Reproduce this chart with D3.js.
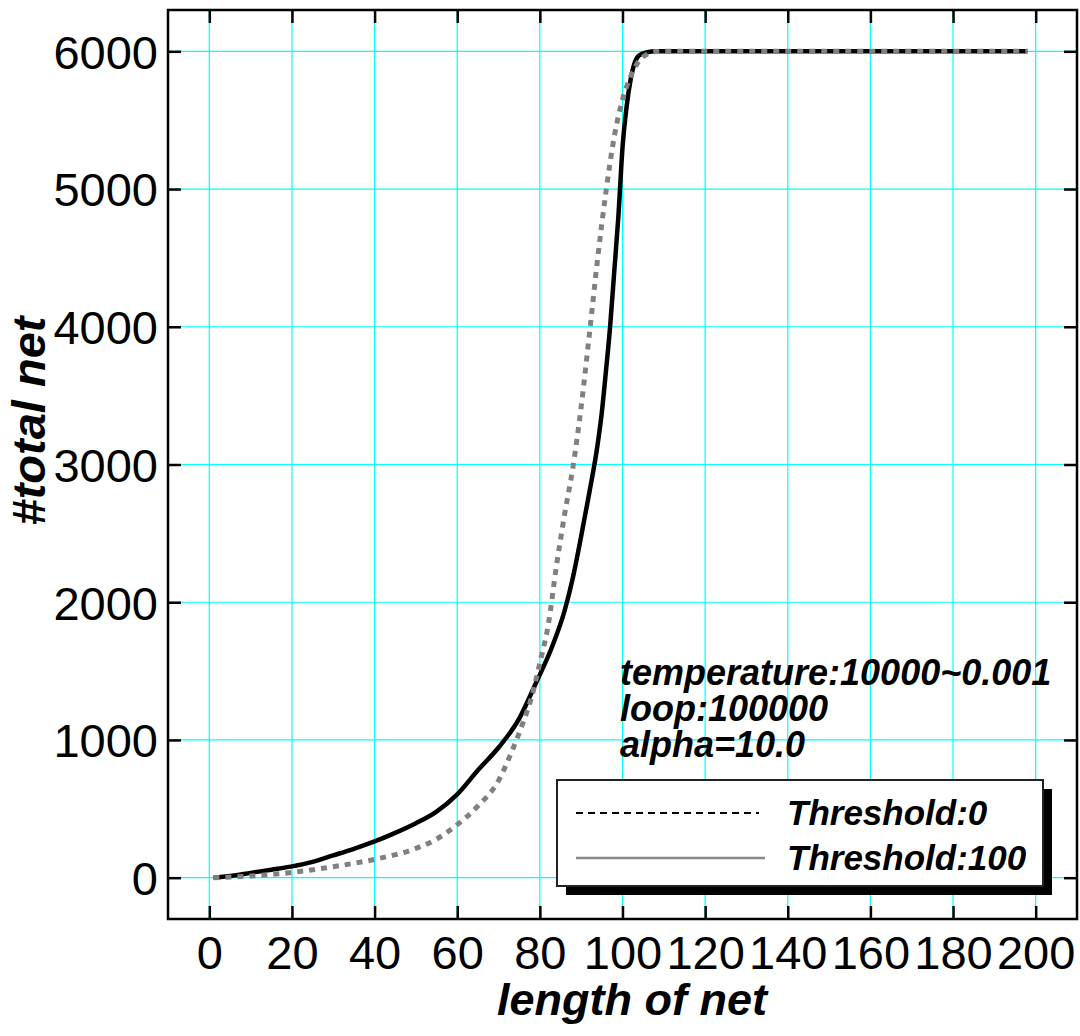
<!DOCTYPE html>
<html>
<head>
<meta charset="utf-8">
<script src="https://cdn.jsdelivr.net/npm/d3@7"></script>
<style>
  body { margin: 0; background: #fff; }
  svg { display: block; font-family: "Liberation Sans", Arial, sans-serif; }
</style>
</head>
<body>
<div id="chart-area"></div>
<script>
// ---- DATA ----
let xTicks = [0, 20, 40, 60, 80, 100, 120, 140, 160, 180, 200];
let yTicks = [0, 1000, 2000, 3000, 4000, 5000, 6000];

let seriesNames = ["Threshold:0", "Threshold:100"];

// solid black curve
let lengthA = [1, 5, 10, 15, 20, 25, 30, 35, 40, 45, 50, 55, 60, 65, 70, 75, 79, 83, 86, 88, 90, 92, 94, 95, 96, 97, 98, 99, 100, 101, 102, 103, 104, 106, 108, 110, 198];
let totalA  = [0, 12, 35, 58, 82, 115, 162, 210, 263, 325, 395, 480, 605, 780, 945, 1155, 1410, 1680, 1940, 2180, 2480, 2800, 3150, 3380, 3680, 4000, 4400, 4800, 5300, 5600, 5800, 5920, 5970, 5993, 6000, 6000, 6000];

// dotted gray curve
let lengthB = [1, 10, 20, 30, 40, 50, 55, 60, 65, 70, 73.5, 76, 78, 80, 82, 84, 86, 88, 90, 92, 94, 96, 98, 100, 102, 104, 106, 108, 110, 198];
let totalB  = [0, 12, 38, 80, 133, 213, 280, 385, 520, 705, 938, 1132, 1310, 1560, 1830, 2260, 2640, 2980, 3420, 3950, 4500, 4980, 5380, 5650, 5820, 5930, 5980, 5998, 6000, 6000];

let notes = ["temperature:10000~0.001", "loop:100000", "alpha=10.0"];

// ---- CHART AREA ----
let margin = {top: 10, right: 3, bottom: 117, left: 168},
	width = 1080 - margin.left - margin.right,
	height = 1036 - margin.top - margin.bottom;

let svg = d3.select("#chart-area").append("svg")
	.attr("width", 1080)
	.attr("height", 1036);

let g = svg.append("g")
	.attr("transform", "translate(" + margin.left + "," + margin.top + ")");

let xScale = d3.scaleLinear().domain([-10, 210]).range([0, width]);
let yScale = d3.scaleLinear().domain([-300, 6300]).range([height, 0]);

// grid
g.append("g").selectAll("line").data(xTicks).enter().append("line")
	.attr("x1", d => xScale(d)).attr("x2", d => xScale(d))
	.attr("y1", 0).attr("y2", height)
	.attr("stroke", "#00ffff").attr("stroke-width", 1.2);

g.append("g").selectAll("line").data(yTicks).enter().append("line")
	.attr("y1", d => yScale(d)).attr("y2", d => yScale(d))
	.attr("x1", 0).attr("x2", width)
	.attr("stroke", "#00ffff").attr("stroke-width", 1.2);

// axes (ticks inward, all four sides)
function styleAxis(sel) {
	sel.select(".domain").remove();
	sel.selectAll(".tick line").attr("stroke", "#000").attr("stroke-width", 2.5);
	sel.selectAll(".tick text").attr("fill", "#000")
		.style("font-size", "47px")
		.style("font-family", "'Liberation Sans', Arial, sans-serif");
}

let xAxis = d3.axisBottom(xScale).tickValues(xTicks).tickSizeInner(-13).tickSizeOuter(0).tickPadding(0);
g.append("g").attr("transform", "translate(0," + height + ")").call(xAxis).call(styleAxis)
	.selectAll(".tick text").attr("y", 50).attr("dy", 0);

g.append("g").call(d3.axisTop(xScale).tickValues(xTicks).tickSizeInner(-13).tickSizeOuter(0).tickFormat(""))
	.call(styleAxis);

let yAxis = d3.axisLeft(yScale).tickValues(yTicks).tickFormat(d3.format("d"))
	.tickSizeInner(-13).tickSizeOuter(0).tickPadding(10);
g.append("g").call(yAxis).call(styleAxis)
	.selectAll(".tick text").attr("x", -10).attr("dy", "0.36em");

g.append("g").attr("transform", "translate(" + width + ",0)")
	.call(d3.axisRight(yScale).tickValues(yTicks).tickSizeInner(-13).tickSizeOuter(0).tickFormat(""))
	.call(styleAxis);

// ---- CURVES ----
let line = d3.line()
	.x(d => xScale(d[0]))
	.y(d => yScale(d[1]))
	.curve(d3.curveMonotoneX);

g.append("path")
	.datum(lengthA.map((d, i) => [d, totalA[i]]))
	.attr("fill", "none")
	.attr("stroke", "#000")
	.attr("stroke-width", 4.5)
	.attr("d", line);

g.append("path")
	.datum(lengthB.map((d, i) => [d, totalB[i]]))
	.attr("fill", "none")
	.attr("stroke", "#808080")
	.attr("stroke-width", 5)
	.attr("stroke-dasharray", "6,6")
	.attr("d", line);

// frame
g.append("rect")
	.attr("width", width).attr("height", height)
	.attr("fill", "none").attr("stroke", "#000").attr("stroke-width", 2.5);

// ---- NOTES ----
g.append("g").selectAll("text").data(notes).enter().append("text")
	.attr("x", 620 - margin.left)
	.attr("y", (d, i) => 685 - margin.top + i * 36)
	.style("font-size", "36px")
	.style("font-weight", "bold")
	.style("font-style", "italic")
	.text(d => d);

// ---- LEGEND ----
let legend = svg.append("g").attr("transform", "translate(557,780)");
legend.append("rect").attr("x", 9).attr("y", 9).attr("width", 486).attr("height", 106).attr("fill", "#000");
legend.append("rect").attr("width", 486).attr("height", 106)
	.attr("fill", "#fff").attr("stroke", "#222").attr("stroke-width", 2);

let legendStyles = [
	{stroke: "#000", width: 2, dash: "7,5", x2: 202},
	{stroke: "#888", width: 2.5, dash: null, x2: 208}
];
seriesNames.forEach(function(name, i) {
	let ly = 33 + i * 45;
	legend.append("line")
		.attr("x1", 19).attr("x2", legendStyles[i].x2)
		.attr("y1", ly).attr("y2", ly)
		.attr("stroke", legendStyles[i].stroke)
		.attr("stroke-width", legendStyles[i].width)
		.attr("stroke-dasharray", legendStyles[i].dash);
	legend.append("text")
		.attr("x", 230).attr("y", ly + 12)
		.style("font-size", "35px")
		.style("font-weight", "bold")
		.style("font-style", "italic")
		.text(name);
});

// ---- AXIS TITLES ----
svg.append("text")
	.attr("x", 632).attr("y", 1015)
	.style("text-anchor", "middle")
	.style("font-size", "45px")
	.style("font-weight", "bold")
	.style("font-style", "italic")
	.text("length of net");

svg.append("text")
	.attr("transform", "translate(45,421) rotate(-90)")
	.style("text-anchor", "middle")
	.style("font-size", "47px")
	.style("font-weight", "bold")
	.style("font-style", "italic")
	.text("#total net");
</script>
</body>
</html>
